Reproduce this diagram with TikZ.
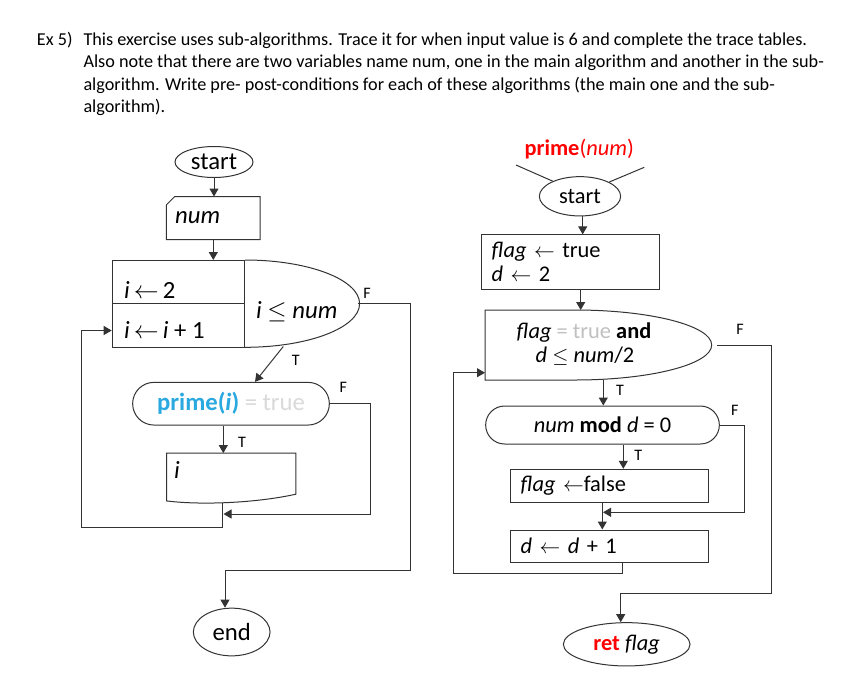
\documentclass[tikz,border=0pt]{standalone}
\usepackage{fontspec}
\setmainfont{Carlito}
\usetikzlibrary{shapes.geometric,arrows.meta,calc}
\definecolor{pblue}{HTML}{29A9E0}
\definecolor{lgray}{HTML}{D9D9D9}
\definecolor{mgray}{HTML}{C0C0C0}
\definecolor{lred}{HTML}{FF0000}
\begin{document}
\begin{tikzpicture}[x=1pt,y=-1pt,
  ln/.style={draw=black!80,line width=1pt},
  arr/.style={ln,-{Triangle[length=8pt,width=9pt]}},
  term/.style={ellipse,ln,inner sep=0pt},
  stad/.style={rectangle,ln,inner sep=0pt},
  cell/.style={rectangle,ln,inner sep=0pt,anchor=north west},
  procbox/.style={rectangle,ln,inner sep=0pt,inner xsep=10pt,align=left},
  txt/.style={inner sep=0pt,anchor=west},
  fl/.style={font=\fontsize{24.7}{29}\selectfont},
  fr/.style={font=\fontsize{22.4}{24}\selectfont},
  lbl/.style={inner sep=0pt,font=\fontsize{16}{18}\selectfont},
  body/.style={inner sep=0pt,anchor=base west,font=\fontsize{18.2}{22}\selectfont}]
\useasboundingbox (0,0) rectangle (855,673);
\fill[white] (0,0) rectangle (855,673);

% ---------- heading text ----------
\node[body] (ex) at (36.7,45.7) {Ex 5)};
\node[body] (t1) at (83.3,45.7) {This exercise uses sub-algorithms. Trace it for when input value is 6 and complete the trace tables.};
\node[body] (t2) at (83.3,67.9) {Also note that there are two variables name num, one in the main algorithm and another in the sub-};
\node[body] (t3) at (83.3,90.1) {algorithm. Write pre- post-conditions for each of these algorithms (the main one and the sub-};
\node[body] (t4) at (83.3,112.3) {algorithm).};

% ---------- main algorithm ----------
\node[term,fl,minimum width=78pt,minimum height=31pt] (startL) at (214,162) {start};
\node[rectangle,inner sep=0pt,minimum width=93.3pt,minimum height=42.6pt] (numL) at (213.3,218) {};
\draw[ln] (numL.south west) -- ($(numL.north west)+(0,8.3)$) -- ($(numL.north west)+(8.3,0)$) -- (numL.north east) -- (numL.south east) -- cycle;
\node[txt,fl] (numLt) at (175,218) {\textit{num}};
\draw[arr] (startL.south) -- (startL.south |- numL.north);

\node[cell,minimum width=132.3pt,minimum height=43.3pt] (initL) at (111.7,260) {};
\node[cell,minimum width=132.3pt,minimum height=44pt] (incL) at (111.7,303.3) {};
\draw[ln] (initL.north east) arc[start angle=-90,end angle=90,x radius=114.6,y radius=43.65];
\node[txt,fl] (initLt) at (124,290) {\textit{i}\,$\leftarrow$\,2};
\node[txt,fl] (incLt) at (124,330) {\textit{i}\,$\leftarrow$\,\textit{i} + 1};
\node[txt,fl] (condL) at (256,311.7) {\textit{i} $\leq$ \textit{num}};
\draw[arr] (numL.south) -- (numL.south |- initL.north);
\coordinate (loopT) at (283.3,346.5);
\coordinate (loopF) at (358.3,303.65);

\node[stad,rounded corners=21.3pt,minimum width=196.7pt,minimum height=42.7pt,fl] (primeL) at (231,403.7)
  {\textcolor{pblue}{\textbf{prime(\textit{i})}} \textcolor{lgray}{= true}};
\draw[arr] (loopT) -- ($(primeL.north)+(24,0)$);

\node[rectangle,inner sep=0pt,minimum width=129pt,minimum height=40.7pt] (outL) at (231.2,473.65) {};
\draw[ln] (outL.north west) -- ($(outL.south west)+(0,6.7)$)
  .. controls ($(outL.south west)+(33.3,11)$) and ($(outL.south east)+(-40.7,9)$) .. (outL.south east)
  -- (outL.north east) -- cycle;
\node[txt,fl] (outLt) at (174,470) {\textit{i}};
\draw[arr] ([xshift=-7.7pt]primeL.south) -- ([xshift=-7.7pt]primeL.south |- outL.north);

\coordinate (outBot) at (222.7,502.5);
\coordinate (joinL) at (223.5,514);
\draw[arr] (primeL.east) -- ++(40.7,0) |- (joinL);
\draw[arr] (outBot) -- ++(0,24.8) -| ($(incL.west)+(-30,4.7)$) -- ($(incL.west)+(0,4.7)$);

\node[term,fl,minimum width=76.7pt,minimum height=47.7pt] (endL) at (231.7,632) {end};
\draw[arr] (loopF) -- ++(51.7,0) |- ($(endL.north)+(-6.7,-37.3)$) -- ($(endL.north)+(-6.7,0)$);

\node[lbl] (fL1) at (367,293.8) {F};
\node[lbl] (tL1) at (295.7,360.7) {T};
\node[lbl] (fL2) at (343.3,387.3) {F};
\node[lbl] (tL2) at (242,442.7) {T};

% ---------- sub-algorithm ----------
\node[anchor=base,inner sep=0pt,fr] (title) at (579.2,155) {\textcolor{lred}{\textbf{prime}(\textit{num})}};
\node[term,fr,minimum width=81.3pt,minimum height=39.3pt] (startR) at (580,196.3) {start};
\coordinate (inA) at (516,165);
\coordinate (inB) at (644.3,167.3);
\draw[ln] (inA) -- (startR.151);
\draw[ln] (inB) -- (startR.26);

\node[procbox,fr,minimum width=177.6pt,minimum height=54.3pt,text width=157.6pt] (initR) at (570.5,262)
  {\textit{flag} $\leftarrow$ true\\ \textit{d} $\leftarrow$ 2};
\draw[arr] ([xshift=2.7pt]startR.south) -- ([xshift=2.7pt]startR.south |- initR.north);

\coordinate (lpNW) at (485,310);
\coordinate (lpSW) at (485,380);
\coordinate (lpIn) at (485,372.7);
\draw[ln] ($(lpNW)+(90,0)$) -- (lpNW) -- (lpSW) -- ($(lpSW)+(90,0)$)
  arc[start angle=90,end angle=-90,x radius=136.7,y radius=35];
\node[fr,anchor=base,inner sep=0pt] (loopR1) at (584,338.5)
  {\textit{flag} \textcolor{mgray}{= true} \textbf{and}};
\node[fr,anchor=base,inner sep=0pt] (loopR2) at (585,362)
  {\textit{d} $\leq$ \textit{num}/2};
\draw[arr] ([xshift=10.2pt]initR.south) -- ([xshift=10.2pt]initR.south |- lpNW);
\coordinate (loopRT) at (603.3,380);
\coordinate (loopRF) at (716.7,345);

\node[stad,rounded corners=19pt,minimum width=233.7pt,minimum height=38pt,fr] (modR) at (602.5,425)
  {\textit{num} \textbf{mod} \textit{d} = 0};
\draw[arr] (loopRT) -- (loopRT |- modR.north);

\node[procbox,fr,minimum width=197.6pt,minimum height=33pt,text width=177.6pt] (falseR) at (609.5,485.8)
  {\textit{flag} $\leftarrow$false};
\draw[arr] ([xshift=20.8pt]modR.south) -- ([xshift=20.8pt]modR.south |- falseR.north);

\node[procbox,fr,minimum width=197.6pt,minimum height=32.3pt,text width=177.6pt] (incR) at (609.5,546.15)
  {\textit{d} $\leftarrow$ \textit{d} + 1};
\draw[arr] ([xshift=-7.2pt]falseR.south) -- ([xshift=-7.2pt]falseR.south |- incR.north);
\coordinate (joinR) at (603,512.3);
\draw[arr] (modR.east) -- ++(24.7,0) |- (joinR);
\draw[arr] ([xshift=13.2pt]incR.south) -- ++(0,10.4) -| ($(lpIn)+(-31.7,0)$) -- (lpIn);

\node[term,fr,minimum width=126.7pt,minimum height=43.3pt] (retR) at (626.7,644.3)
  {\textcolor{lred}{\textbf{ret}} \textit{flag}};
\draw[arr] (loopRF) -- ++(54.3,0) |- ($(retR.north)+(-6,-28.7)$) -- ($(retR.north)+(-6,0)$);

\node[lbl] (tR1) at (620,390.8) {T};
\node[lbl] (fR1) at (740,329.3) {F};
\node[lbl] (fR2) at (734.8,410.5) {F};
\node[lbl] (tR2) at (638.3,455.8) {T};
\end{tikzpicture}
\end{document}
